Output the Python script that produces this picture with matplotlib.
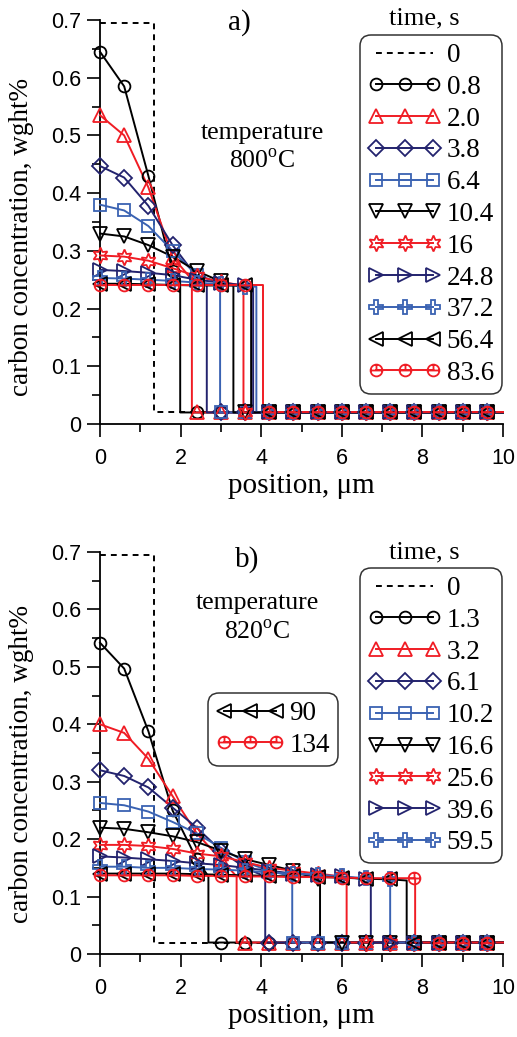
import matplotlib
matplotlib.use("Agg")
import matplotlib.pyplot as plt
from matplotlib.path import Path
import numpy as np

plt.rcParams['font.family'] = ['Liberation Serif', 'DejaVu Serif']
plt.rcParams['mathtext.fontset'] = 'custom'
plt.rcParams['mathtext.rm'] = 'Liberation Serif'

W, H = 517, 1037
fig = plt.figure(figsize=(W / 100, H / 100), dpi=100)

BLACK = '#000000'
RED = '#f01c24'
NAVY = '#23236e'
BLUE = '#3a62b2'

# custom marker: circle with horizontal bar and upper vertical bar
cbar = Path.make_compound_path(Path.unit_circle(),
                               Path([[-1, 0], [1, 0]]),
                               Path([[0, 0], [0, 1]]))
STAR6 = (6, 1, 0)

# grid positions of markers (um)
grid = [0, 0.6, 1.2, 1.8, 2.4, 3.0, 3.6, 4.2, 4.8, 5.4, 6.0, 6.6, 7.2, 7.8, 8.4, 9.0, 9.6]
c_low = 0.02
c_init = 0.695
x_init = 1.33

# ---------------- panel a) 800 C ----------------
a_times = ['0.8', '2.0', '3.8', '6.4', '10.4', '16', '24.8', '37.2', '56.4', '83.6']
a_vals = [
    [0.645, 0.585, 0.43, 0.265],
    [0.535, 0.50, 0.41, 0.29],
    [0.447, 0.427, 0.378, 0.31, 0.255],
    [0.38, 0.37, 0.343, 0.30, 0.258],
    [0.33, 0.325, 0.31, 0.29, 0.265, 0.247],
    [0.292, 0.29, 0.283, 0.27, 0.256, 0.246],
    [0.267, 0.265, 0.262, 0.258, 0.25, 0.245, 0.24],
    [0.253, 0.252, 0.25, 0.248, 0.245, 0.242, 0.238],
    [0.243, 0.243, 0.242, 0.241, 0.24, 0.24, 0.24],
    [0.24, 0.24, 0.24, 0.24, 0.24, 0.24, 0.24],
]
a_xi = [1.99, 2.28, 2.65, 2.98, 3.31, 3.56, 3.8, 3.88, 3.75, 4.04]
a_ci = [0.245, 0.25, 0.24, 0.245, 0.24, 0.24, 0.24, 0.238, 0.24, 0.24]

# ---------------- panel b) 820 C ----------------
b_times = ['1.3', '3.2', '6.1', '10.2', '16.6', '25.6', '39.6', '59.5', '90', '134']
b_vals = [
    [0.542, 0.497, 0.388, 0.25, 0.165],
    [0.40, 0.385, 0.34, 0.275, 0.21, 0.165],
    [0.32, 0.31, 0.29, 0.255, 0.22, 0.18, 0.15],
    [0.263, 0.259, 0.248, 0.23, 0.21, 0.185, 0.16, 0.145],
    [0.22, 0.218, 0.212, 0.205, 0.195, 0.18, 0.165, 0.155, 0.145, 0.13],
    [0.19, 0.19, 0.188, 0.183, 0.175, 0.17, 0.16, 0.15, 0.145, 0.14, 0.135],
    [0.17, 0.168, 0.165, 0.162, 0.158, 0.155, 0.15, 0.145, 0.14, 0.137, 0.135, 0.13],
    [0.152, 0.152, 0.15, 0.15, 0.148, 0.147, 0.145, 0.142, 0.14, 0.138, 0.135, 0.132, 0.13],
    [0.14, 0.14, 0.14, 0.14, 0.139, 0.138, 0.137, 0.136, 0.135, 0.134, 0.133, 0.131, 0.13],
    [0.137, 0.137, 0.137, 0.137, 0.136, 0.136, 0.135, 0.135, 0.134, 0.134, 0.133, 0.132, 0.132, 0.132],
]
b_xi = [2.69, 3.39, 4.1, 4.77, 5.46, 6.12, 6.72, 7.2, 7.61, 7.82]
b_ci = [0.135, 0.135, 0.135, 0.135, 0.128, 0.13, 0.128, 0.128, 0.128, 0.13]

styles = [
    dict(color=BLACK, marker='o', ms=8.5),
    dict(color=RED, marker='^', ms=10),
    dict(color=NAVY, marker='D', ms=8),
    dict(color=BLUE, marker='s', ms=8.5),
    dict(color=BLACK, marker='v', ms=10),
    dict(color=RED, marker=STAR6, ms=11.5),
    dict(color=NAVY, marker='>', ms=10),
    dict(color=BLUE, marker='P', ms=10.5),
    dict(color=BLACK, marker='<', ms=10),
    dict(color=RED, marker=cbar, ms=8.5),
]


def draw_panel(ax, times, vals, xis, cis):
    handles = []
    h0, = ax.plot([0, x_init, x_init, 10], [c_init, c_init, c_low, c_low],
                  ls=(0, (3.0, 2.6)), color='k', lw=1.4, clip_on=False, zorder=3)
    handles.append(h0)
    for t, v, xi, ci, st in zip(times, vals, xis, cis, styles):
        xs_hi = grid[:len(v)]
        xs_lo = [g for g in grid if g > xi]
        lx = list(xs_hi) + [xi, xi] + xs_lo + [10]
        ly = list(v) + [ci, c_low] + [c_low] * len(xs_lo) + [c_low]
        ax.plot(lx, ly, color=st['color'], lw=1.4, clip_on=False, zorder=4)
        mx = list(xs_hi) + xs_lo
        my = list(v) + [c_low] * len(xs_lo)
        ax.plot(mx, my, ls='none', marker=st['marker'], ms=st['ms'], mfc='none',
                mec=st['color'], mew=1.3, clip_on=False, zorder=5)
        h, = ax.plot([], [], color=st['color'], lw=1.4, marker=st['marker'],
                     ms=st['ms'], mfc='none', mec=st['color'], mew=1.3)
        handles.append(h)
    return handles


def style_axes(ax):
    ax.set_xlim(0, 10)
    ax.set_ylim(0, 0.7)
    ax.spines['top'].set_visible(False)
    ax.spines['right'].set_visible(False)
    for s in ('left', 'bottom'):
        ax.spines[s].set_linewidth(1.3)
    ax.set_xticks(np.arange(0, 11, 2))
    ax.set_xticks(np.arange(1, 10, 2), minor=True)
    ax.set_yticks(np.arange(0, 0.71, 0.1))
    ax.set_yticks(np.arange(0.05, 0.7, 0.1), minor=True)
    ax.set_xticklabels(['0', '2', '4', '6', '8', '10'])
    ax.set_yticklabels(['0', '0.1', '0.2', '0.3', '0.4', '0.5', '0.6', '0.7'])
    ax.tick_params(which='major', direction='out', length=9.5, width=1.2)
    ax.tick_params(which='minor', direction='out', length=5.5, width=1.2)
    ax.tick_params(axis='x', which='major', pad=8)
    ax.tick_params(axis='y', which='major', pad=4)
    for lab in ax.get_xticklabels() + ax.get_yticklabels():
        lab.set_fontfamily('Liberation Sans')
        lab.set_fontsize(15.5)
    ax.set_xlabel('position, \u03bcm', fontsize=21, labelpad=3)
    ax.set_ylabel('carbon concentration, wght%', fontsize=19.5)


def fx(px):
    return px / W


def fy(py):
    return 1 - py / H


# axes placement
ax1 = fig.add_axes([fx(100), fy(424), fx(503) - fx(100), fy(20) - fy(424)])
ax2 = fig.add_axes([fx(100), fy(954), fx(503) - fx(100), fy(552) - fy(954)])
for ax in (ax1, ax2):
    ax.patch.set_visible(False)
    style_axes(ax)
ax1.yaxis.set_label_coords(-66 / 403, (424 - 237) / 404)
ax2.yaxis.set_label_coords(-66 / 403, (954 - 764) / 402)

ha = draw_panel(ax1, a_times, a_vals, a_xi, a_ci)
hb = draw_panel(ax2, b_times, b_vals, b_xi, b_ci)

leg_kw = dict(frameon=True, fancybox=True, numpoints=3, handlelength=2.7,
              handletextpad=0.2, borderpad=0.3, labelspacing=0.25,
              borderaxespad=0, fontsize=19.5, bbox_transform=fig.transFigure,
              loc='upper right')

la = ax1.legend(ha, ['0'] + a_times, bbox_to_anchor=(fx(502), fy(35)), **leg_kw)
lb = ax2.legend(hb[:9], ['0'] + b_times[:8], bbox_to_anchor=(fx(502), fy(568)), **leg_kw)
ax2.add_artist(lb)
kw2 = dict(leg_kw)
kw2['loc'] = 'upper left'
kw2['handlelength'] = 2.5
lb2 = ax2.legend(hb[9:], b_times[8:], bbox_to_anchor=(fx(208), fy(693)), **kw2)
for lg in (la, lb, lb2):
    fr = lg.get_frame()
    fr.set_edgecolor('k')
    fr.set_linewidth(1.1)
    fr.set_boxstyle('round', pad=0, rounding_size=0.4)
    lg.set_zorder(10)

# annotations
fig.text(fx(239), fy(23), 'a)', fontsize=21, ha='center', va='center')
fig.text(fx(247), fy(560), 'b)', fontsize=21, ha='center', va='center')
fig.text(fx(424), fy(18), 'time, s', fontsize=19, ha='center', va='center')
fig.text(fx(424), fy(552), 'time, s', fontsize=19, ha='center', va='center')
fig.text(fx(262), fy(133), 'temperature', fontsize=18.5, ha='center', va='center')
fig.text(fx(262), fy(161), '800$^{\\rm o}$C', fontsize=18.5, ha='center', va='center')
fig.text(fx(257), fy(603), 'temperature', fontsize=18.5, ha='center', va='center')
fig.text(fx(257), fy(632), '820$^{\\rm o}$C', fontsize=18.5, ha='center', va='center')

fig.savefig('out.png', dpi=100)
